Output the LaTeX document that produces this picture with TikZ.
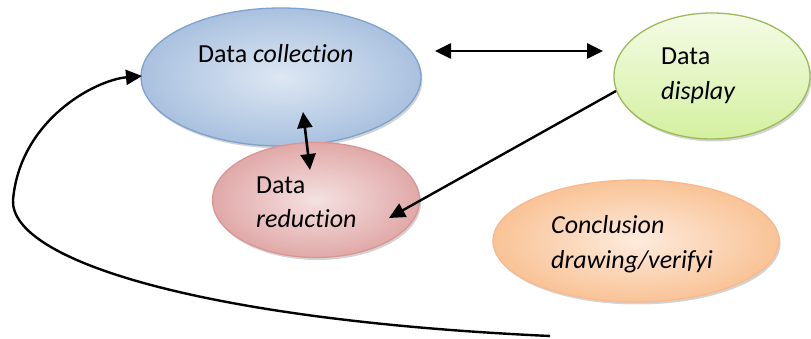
\documentclass[tikz,border=0pt]{standalone}
\usepackage{fontspec}
\setmainfont{Carlito}[Ligatures={NoCommon,NoContextual}]
\usetikzlibrary{arrows.meta, shapes.geometric, shadows}

\definecolor{collLine}{HTML}{7EA2CF}
\definecolor{collIn}{HTML}{DDE7F3}
\definecolor{collOut}{HTML}{A9C1DF}
\definecolor{redLine}{HTML}{D99694}
\definecolor{redIn}{HTML}{F5E1E1}
\definecolor{redOut}{HTML}{E0A9A8}
\definecolor{dispLine}{HTML}{9BBB59}
\definecolor{dispTop}{HTML}{F5FBE6}
\definecolor{dispBot}{HTML}{D4F0A0}
\definecolor{conclLine}{HTML}{F9B98C}
\definecolor{conclIn}{HTML}{FDEBDD}
\definecolor{conclOut}{HTML}{F9C396}

\begin{document}
\begin{tikzpicture}[
    x=1pt, y=-1pt,
    phase/.style={ellipse, draw, line width=1.3pt, inner sep=0pt,
        drop shadow={shadow xshift=1.5pt, shadow yshift=-2.5pt, opacity=0.35}},
    txt/.style={anchor=base west, inner sep=0pt, align=left, font=\fontsize{26}{35}\selectfont},
    tip/.tip={Triangle[length=16pt, width=15pt]},
    link/.style={line width=2.6pt, tip-tip},
    flow/.style={line width=2.4pt, -tip}
]
    \useasboundingbox (0,0) rectangle (811,339);

    % Phases
    \node[phase, draw=collLine, inner color=collIn, outer color=collOut,
        minimum width=280pt, minimum height=138pt] (coll) at (281,77) {};
    \node[phase, draw=redLine, inner color=redIn, outer color=redOut,
        minimum width=207pt, minimum height=115pt] (red) at (316,200) {};
    \node[phase, draw=dispLine, top color=dispTop, bottom color=dispBot,
        minimum width=196pt, minimum height=126pt] (disp) at (712,76) {};
    \node[phase, draw=conclLine, inner color=conclIn, outer color=conclOut,
        minimum width=286pt, minimum height=122pt] (concl) at (636,241) {};

    % Labels (base = last line)
    \node[txt] (collTxt) at (198,63) {Data \textit{collection}};
    \node[txt] (redTxt) at (256,228) {Data\\\textit{reduction}};
    \node[txt] (dispTxt) at (661,100) {Data\\\textit{display}};
    \node[txt] (conclTxt) at (551,268) {\textit{Conclusion}\\\textit{drawing/verifyi}};

    % Arrow ends
    \coordinate (collE) at (435,51);
    \coordinate (dispW) at (603,51);
    \coordinate (collS) at (303,112);
    \coordinate (redN) at (310,170);
    \coordinate (dispSW) at (616,91);
    \coordinate (redE) at (389,218);
    \coordinate (loopStart) at (550,336);
    \coordinate (loopTurn) at (13,200);
    \coordinate (collW) at (142,76);

    % Edges
    \draw[link] (collE) -- (dispW);
    \draw[link] (collS) -- (redN);
    \draw[flow] (dispSW) -- (redE);
    \draw[flow] (loopStart) .. controls (200,320) and (10,260) .. (loopTurn)
        .. controls (20,120) and (95,80) .. (collW);
\end{tikzpicture}
\end{document}
